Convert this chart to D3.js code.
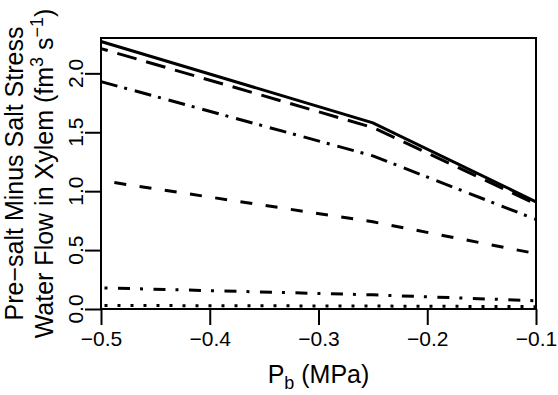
<!DOCTYPE html>
<html>
<head>
<meta charset="utf-8">
<script src="https://cdn.jsdelivr.net/npm/d3@7"></script>
<style>
  body { margin: 0; background: #fff; }
  svg { display: block; font-family: "Liberation Sans", Arial, sans-serif; }
</style>
</head>
<body>
<div id="chart"></div>
<script>
// x values (MPa) where each curve was computed
var pb = [-0.5, -0.25, -0.1];

// curves, top to bottom
var solidVals    = [2.27, 1.58, 0.91];
var longDashVals = [2.21, 1.54, 0.89];
var dotDashVals  = [1.93, 1.30, 0.76];
var dashVals     = [1.09, 0.74, 0.47];
var twoDashVals  = [0.18, 0.12, 0.07];
var dottedVals   = [0.03, 0.025, 0.02];

var xTicks = [-0.5, -0.4, -0.3, -0.2, -0.1];
var yTicks = [0, 0.5, 1.0, 1.5, 2.0];

var series = [
  { vals: solidVals,    dash: null,            off: 0 },
  { vals: longDashVals, dash: "20,10",         off: 13 },
  { vals: dotDashVals,  dash: "17,7,3,8",      off: 0 },
  { vals: dashVals,     dash: "12,13.5",       off: 12 },
  { vals: twoDashVals,  dash: "3,10.5,12,10",  off: 32 },
  { vals: dottedVals,   dash: "3,10",          off: 9.5 }
];

var width = 558, height = 395;
var plotLeft = 101, plotRight = 536, plotTop = 38, plotBottom = 309;

var svg = d3.select("#chart").append("svg")
    .attr("width", width)
    .attr("height", height);

var x = d3.scaleLinear().domain([-0.5, -0.1]).range([plotLeft, plotRight]);
var y = d3.scaleLinear().domain([0, 2.3]).range([plotBottom, plotTop]);

var line = d3.line()
    .x(function(d) { return x(d[0]); })
    .y(function(d) { return y(d[1]); });

// curves
series.forEach(function(s) {
  var pts = pb.map(function(p, i) { return [p, s.vals[i]]; });
  svg.append("path")
      .attr("d", line(pts))
      .attr("fill", "none")
      .attr("stroke", "#000")
      .attr("stroke-width", 3)
      .attr("stroke-dasharray", s.dash)
      .attr("stroke-dashoffset", s.off);
});

// box
svg.append("rect")
    .attr("x", plotLeft)
    .attr("y", plotTop)
    .attr("width", plotRight - plotLeft)
    .attr("height", plotBottom - plotTop)
    .attr("fill", "none")
    .attr("stroke", "#000")
    .attr("stroke-width", 2);

// x axis
var xAxis = svg.append("g")
    .attr("transform", "translate(0," + plotBottom + ")")
    .call(d3.axisBottom(x).tickValues(xTicks).tickSize(16).tickPadding(6)
      .tickFormat(d3.format(".1f")));
xAxis.select(".domain").remove();
xAxis.selectAll("line").attr("stroke-width", 2);
xAxis.selectAll("text")
    .attr("font-size", 21)
    .attr("font-family", "Liberation Sans, Arial, sans-serif")
    .attr("fill", "#000");

// y axis ticks
var yAxis = svg.append("g")
    .attr("transform", "translate(" + plotLeft + ",0)")
    .call(d3.axisLeft(y).tickValues(yTicks).tickSize(16).tickFormat(""));
yAxis.select(".domain").remove();
yAxis.selectAll("line").attr("stroke-width", 2);

// y tick labels, turned to run along the axis
svg.append("g").selectAll("text")
    .data(yTicks)
    .enter()
      .append("text")
      .attr("transform", function(d) {
        return "translate(" + (plotLeft - 18) + "," + y(d) + ") rotate(-90)";
      })
      .attr("text-anchor", "middle")
      .attr("font-size", 21)
      .attr("fill", "#000")
      .text(d3.format(".1f"));

// x axis title
var xt = svg.append("text")
    .attr("x", (plotLeft + plotRight) / 2)
    .attr("y", 383)
    .attr("text-anchor", "middle")
    .attr("font-size", 25)
    .attr("fill", "#000");
xt.append("tspan").text("P");
xt.append("tspan").attr("dy", 6).attr("font-size", 18).text("b");
xt.append("tspan").attr("dy", -6).text(" (MPa)");

// y axis title, two lines
var cy = (plotTop + plotBottom) / 2;
svg.append("text")
    .attr("transform", "translate(23," + cy + ") rotate(-90)")
    .attr("text-anchor", "middle")
    .attr("font-size", 25)
    .attr("fill", "#000")
    .text("Pre\u2212salt Minus Salt Stress");

var yt2 = svg.append("text")
    .attr("transform", "translate(53," + cy + ") rotate(-90)")
    .attr("text-anchor", "middle")
    .attr("font-size", 25)
    .attr("fill", "#000");
yt2.append("tspan").text("Water Flow in Xylem (fm");
yt2.append("tspan").attr("dy", -10).attr("font-size", 18).text("3");
yt2.append("tspan").attr("dy", 10).text(" s");
yt2.append("tspan").attr("dy", -10).attr("font-size", 18).text("\u22121");
yt2.append("tspan").attr("dy", 10).text(")");
</script>
</body>
</html>
